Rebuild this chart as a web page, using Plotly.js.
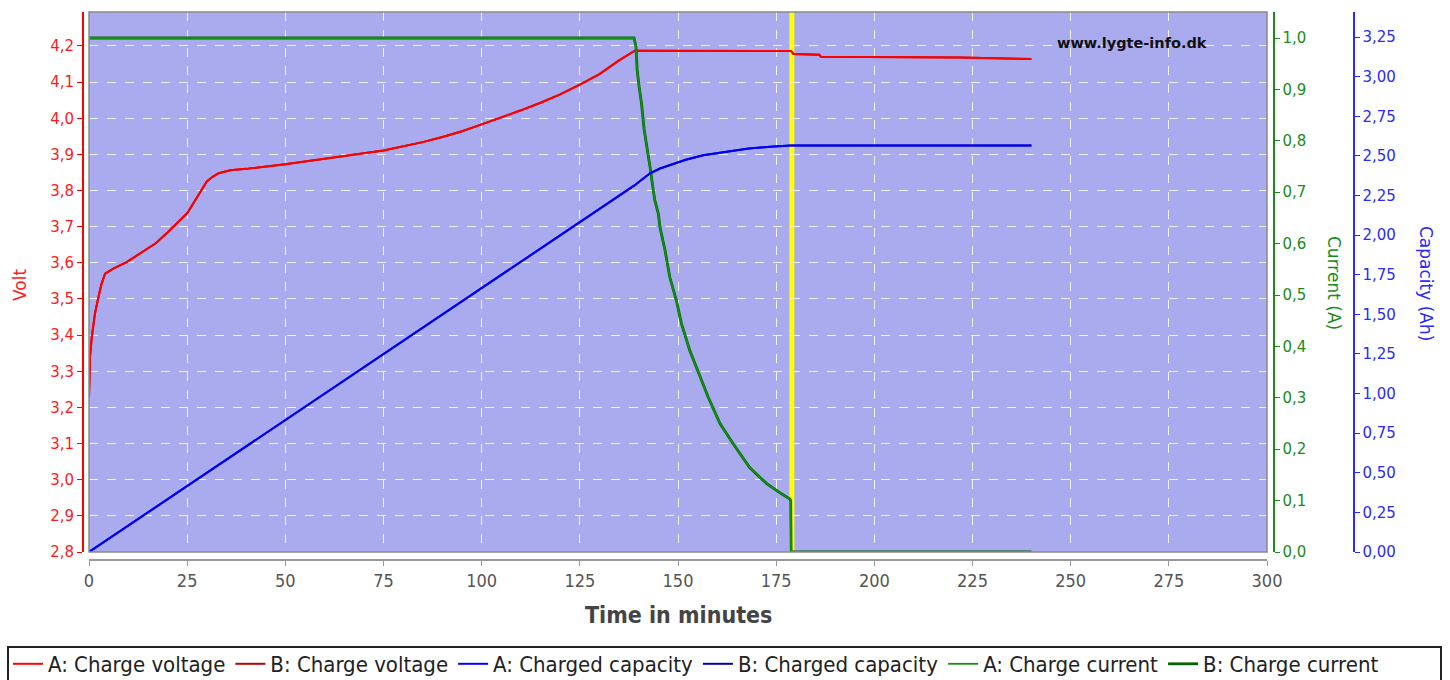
<!DOCTYPE html>
<html>
<head>
<meta charset="utf-8">
<script src="https://cdn.plot.ly/plotly-3.0.1.min.js"></script>
<style>
  html, body { margin: 0; padding: 0; background: #ffffff; }
  #chart { width: 1450px; height: 680px; }
</style>
</head>
<body>
<div id="chart"></div>
<script>
// ---- Data ----
// Charge voltage (V) vs time (min)
const voltTime = [0, 0.25, 0.7, 1.5, 2.4, 3.2, 4.1, 6.2, 9.6, 14.3, 17, 20, 23, 25, 28, 30, 31.5, 33, 36, 40, 50, 60, 65, 70, 75, 80, 85, 90, 95, 100, 105, 110, 115, 120, 125, 130, 135, 139, 178.8, 179.4, 186, 186.4, 222, 229, 240];
const voltValues = [3.228, 3.339, 3.394, 3.459, 3.505, 3.542, 3.570, 3.584, 3.602, 3.634, 3.654, 3.684, 3.715, 3.737, 3.790, 3.825, 3.838, 3.848, 3.856, 3.860, 3.873, 3.887, 3.895, 3.903, 3.911, 3.922, 3.934, 3.948, 3.964, 3.983, 4.002, 4.022, 4.043, 4.066, 4.093, 4.122, 4.160, 4.187, 4.186, 4.178, 4.176, 4.170, 4.168, 4.166, 4.164];

// Charged capacity (Ah) vs time (min)
const capTime = [0, 30, 60, 90, 120, 135.2, 139, 140.5, 142.9, 145.4, 149.6, 152, 156.4, 160.3, 164.9, 168, 173.4, 178.7, 240];
const capValues = [0, 0.50, 1.00, 1.50, 2.00, 2.25, 2.315, 2.345, 2.39, 2.42, 2.458, 2.475, 2.504, 2.518, 2.536, 2.546, 2.558, 2.565, 2.565];

// Charge current (A) vs time (min)
const curTime = [0, 138.8, 139.3, 139.6, 140.1, 140.7, 141.4, 142.4, 143.0, 143.7, 144.1, 145.0, 145.4, 146.7, 147.9, 149.6, 150.9, 153.0, 155.6, 157.7, 160.7, 164.0, 168.3, 172.6, 176.0, 178.5, 178.7, 178.8, 240];
const curValues = [1.0, 1.0, 0.983, 0.938, 0.905, 0.873, 0.821, 0.775, 0.743, 0.704, 0.684, 0.658, 0.632, 0.587, 0.535, 0.489, 0.444, 0.392, 0.340, 0.301, 0.250, 0.211, 0.164, 0.133, 0.115, 0.103, 0.100, 0, 0];

// End-of-charge marker (min)
const chargeEnd = 179;

// Axis / label texts
const xTitle = 'Time in minutes';
const voltTitle = 'Volt';
const curTitle = 'Current (A)';
const capTitle = 'Capacity (Ah)';
const siteText = 'www.lygte-info.dk';
const seriesNames = ['A: Charge voltage', 'B: Charge voltage', 'A: Charged capacity', 'B: Charged capacity', 'A: Charge current', 'B: Charge current'];

// ---- Layout geometry ----
const W = 1450, H = 680;
const M = {l: 80, r: 20, t: 12, b: 100};
const PW = W - M.l - M.r, PH = H - M.t - M.b;
const px = v => (v - M.l) / PW;          // pixel x -> paper x
const py = v => (H - M.b - v) / PH;      // pixel y -> paper y

const condensed = '"DejaVu Sans Condensed", "DejaVu Sans", sans-serif';
const sans = '"DejaVu Sans", Verdana, sans-serif';

const RED = '#ff0000', DRED = '#c00000';
const BLUE = '#0000ff', DBLUE = '#0000b0';
const GREEN = '#109010', DGREEN = '#006400';
const AXGREEN = '#1a8c1a', AXBLUE = '#2a2aff';

const traces = [
  {x: capTime, y: capValues, yaxis: 'y3', name: seriesNames[3], legendrank: 4, line: {color: DBLUE, width: 2}},
  {x: capTime, y: capValues, yaxis: 'y3', name: seriesNames[2], legendrank: 3, line: {color: BLUE, width: 2}},
  {x: voltTime, y: voltValues, yaxis: 'y', name: seriesNames[1], legendrank: 2, line: {color: DRED, width: 2}},
  {x: voltTime, y: voltValues, yaxis: 'y', name: seriesNames[0], legendrank: 1, line: {color: RED, width: 2}},
  {x: curTime, y: curValues, yaxis: 'y2', name: seriesNames[5], legendrank: 6, line: {color: DGREEN, width: 2.8}},
  {x: curTime, y: curValues, yaxis: 'y2', name: seriesNames[4], legendrank: 5, line: {color: GREEN, width: 1.8}}
].map(t => Object.assign({type: 'scatter', mode: 'lines', xaxis: 'x', hoverinfo: 'skip'}, t));

const layout = {
  width: W, height: H,
  margin: Object.assign({autoexpand: false}, M),
  paper_bgcolor: '#ffffff',
  plot_bgcolor: '#aaaaee',
  separators: ', ',
  showlegend: true,
  xaxis: {
    domain: [px(89), px(1267)],
    range: [0, 300], dtick: 25, tick0: 0,
    anchor: 'free', position: py(559),
    showline: true, linecolor: '#999999', linewidth: 1.5,
    ticks: 'outside', ticklen: 5, tickcolor: '#999999',
    tickfont: {family: condensed, size: 18, color: '#555555'},
    showgrid: true, gridcolor: 'rgba(255,255,255,0.85)', griddash: 'dash', gridwidth: 1,
    zeroline: false, automargin: false
  },
  yaxis: {
    domain: [py(552), 1],
    range: [2.8, 4.294], dtick: 0.1, tick0: 2.8, tickformat: '.1f',
    anchor: 'free', position: px(82), side: 'left',
    showline: true, linecolor: RED, linewidth: 1.5,
    ticks: 'outside', ticklen: 5, tickcolor: RED,
    tickfont: {family: sans, size: 15, color: '#ff1a1a'},
    showgrid: true, gridcolor: 'rgba(255,255,255,0.85)', griddash: 'dash', gridwidth: 1,
    zeroline: false, automargin: false
  },
  yaxis2: {
    overlaying: 'y', side: 'right',
    range: [0, 1.0506], dtick: 0.1, tick0: 0, tickformat: '.1f',
    anchor: 'free', position: px(1273),
    showline: true, linecolor: AXGREEN, linewidth: 1.5,
    ticks: 'outside', ticklen: 5, tickcolor: AXGREEN,
    tickfont: {family: sans, size: 15, color: AXGREEN},
    showgrid: false, zeroline: false, automargin: false
  },
  yaxis3: {
    overlaying: 'y', side: 'right',
    range: [0, 3.408], dtick: 0.25, tick0: 0, tickformat: '.2f',
    anchor: 'free', position: px(1353),
    showline: true, linecolor: AXBLUE, linewidth: 1.5,
    ticks: 'outside', ticklen: 5, tickcolor: AXBLUE,
    tickfont: {family: sans, size: 15, color: AXBLUE},
    showgrid: false, zeroline: false, automargin: false
  },
  legend: {
    orientation: 'h',
    x: px(8), xanchor: 'left',
    y: py(643), yanchor: 'top',
    font: {family: condensed, size: 22, color: '#222222'},
    bgcolor: 'rgba(0,0,0,0)', borderwidth: 0,
    traceorder: 'normal'
  },
  shapes: [
    {type: 'line', xref: 'x', yref: 'y domain', x0: chargeEnd, x1: chargeEnd, y0: 0, y1: 1,
     line: {color: '#ffff00', width: 5}, layer: 'below'},
    {type: 'rect', xref: 'x domain', yref: 'y domain', x0: 0, x1: 1, y0: 0, y1: 1,
     line: {color: '#8a8a8a', width: 1.5}, layer: 'above'},
    {type: 'rect', xref: 'paper', yref: 'paper', x0: px(8), x1: px(1441), y0: py(700), y1: py(647),
     line: {color: '#222222', width: 2}, layer: 'above'}
  ],
  annotations: [
    {text: voltTitle, xref: 'paper', yref: 'paper', x: px(20), y: py(285), showarrow: false,
     textangle: -90, font: {family: sans, size: 17, color: '#ff2020'}, xanchor: 'center', yanchor: 'middle'},
    {text: curTitle, xref: 'paper', yref: 'paper', x: px(1334), y: py(283), showarrow: false,
     textangle: 90, font: {family: sans, size: 17, color: AXGREEN}, xanchor: 'center', yanchor: 'middle'},
    {text: capTitle, xref: 'paper', yref: 'paper', x: px(1426), y: py(283), showarrow: false,
     textangle: 90, font: {family: sans, size: 17, color: AXBLUE}, xanchor: 'center', yanchor: 'middle'},
    {text: xTitle, xref: 'paper', yref: 'paper', x: px(678), y: py(615), showarrow: false,
     font: {family: condensed, size: 23, color: '#444444', weight: 'bold'}, xanchor: 'center', yanchor: 'middle'},
    {text: siteText, xref: 'paper', yref: 'paper', x: px(1132), y: py(43), showarrow: false,
     font: {family: sans, size: 14.5, color: '#111111', weight: 'bold'}, xanchor: 'center', yanchor: 'middle'}
  ]
};

Plotly.newPlot('chart', traces, layout, {displayModeBar: false, staticPlot: true});
</script>
</body>
</html>
